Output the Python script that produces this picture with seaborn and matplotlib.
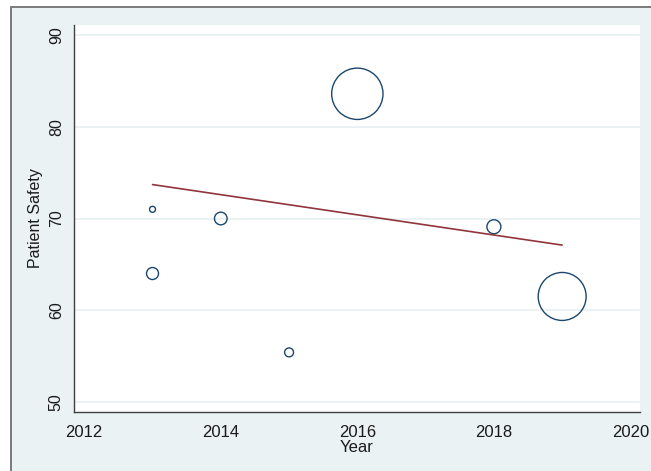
import numpy as np
import pandas as pd
import seaborn as sns
import matplotlib.pyplot as plt
from matplotlib.patches import Rectangle

# Study-level data
years = [2013, 2013, 2014, 2015, 2016, 2018, 2019]
safety = [71.0, 64.0, 70.0, 55.4, 83.6, 69.1, 61.5]
weights = [9, 36, 40, 20, 660, 49, 576]

# Meta-regression fitted line (end points)
fit_years = [2013, 2019]
fit_safety = [73.7, 67.1]

x_ticks = [2012, 2014, 2016, 2018, 2020]
y_ticks = [50, 60, 70, 80, 90]

df = pd.DataFrame({"year": years, "safety": safety, "weight": weights})

bg = "#EAF2F3"
navy = "#1A476F"
maroon = "#90353B"

sns.set_style("white")
plt.rcParams["font.family"] = ["Liberation Sans", "DejaVu Sans"]

fig = plt.figure(figsize=(6.51, 4.71), dpi=100, facecolor="white")

# Stata-like graph region with grey border on top and left
fig.patches.append(Rectangle((11 / 651, -0.1), 1.2, 1.1 - 7 / 471,
                             transform=fig.transFigure, facecolor=bg,
                             edgecolor="#7a7a7a", lw=1.4, zorder=-5))

ax = fig.add_axes([74 / 651, 59 / 471, 566 / 651, 387 / 471])
ax.set_facecolor("white")

# bubble area proportional to weight (s in points^2)
k = 2.07
sns.scatterplot(data=df, x="year", y="safety", size="weight",
                sizes=(k * min(weights), k * max(weights)),
                size_norm=(min(weights), max(weights)),
                legend=False, ax=ax, color=navy, linewidth=1.0, zorder=3)
pts = ax.collections[-1]
pts.set_facecolor("none")
pts.set_edgecolor(navy)

sns.lineplot(x=fit_years, y=fit_safety, color=maroon, lw=1.2, ax=ax, zorder=4)

ax.set_xlim(2011.85, 2020.14)
ax.set_ylim(48.9, 91.1)
ax.set_xticks(x_ticks)
ax.set_yticks(y_ticks)
ax.yaxis.grid(True, color=bg, lw=1.4, zorder=0)
ax.xaxis.grid(False)
ax.set_axisbelow(True)

for side in ["top", "right"]:
    ax.spines[side].set_visible(False)
for side in ["left", "bottom"]:
    ax.spines[side].set_color("#404040")
    ax.spines[side].set_linewidth(1.0)

ax.tick_params(axis="both", direction="out", length=4.3, width=0.9,
               color="#6a6a6a", labelcolor="#1a1a1a")
ax.tick_params(axis="x", labelsize=12, pad=5)
ax.tick_params(axis="y", labelsize=11.5, pad=3)
for lab in ax.get_yticklabels():
    lab.set_rotation(90)
    lab.set_va("center")

ax.set_xlabel("Year", fontsize=12, labelpad=0, color="#1a1a1a")
ax.set_ylabel("Patient Safety", fontsize=11.5, labelpad=4, color="#1a1a1a")

fig.savefig("out.png", dpi=100, facecolor=fig.get_facecolor())
